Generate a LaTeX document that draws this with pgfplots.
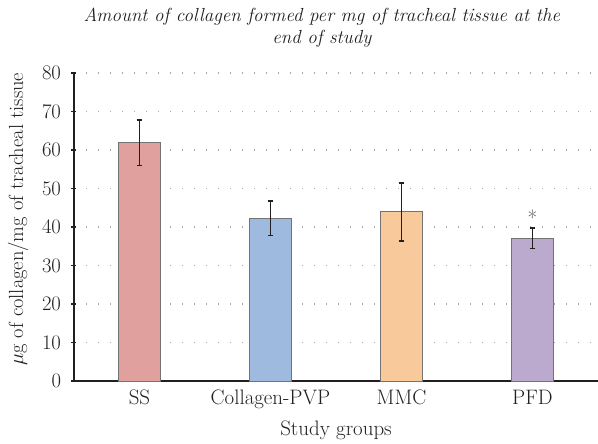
\documentclass[border=0pt]{standalone}
\usepackage{pgfplots}
\pgfplotsset{compat=1.18}
\definecolor{axcol}{HTML}{231F20}
\definecolor{cSS}{HTML}{E0A09E}
\definecolor{cCP}{HTML}{9EBADF}
\definecolor{cMM}{HTML}{F8C99A}
\definecolor{cPF}{HTML}{BBA9CE}
\begin{document}
\begin{tikzpicture}
\useasboundingbox (-74bp,-63bp) rectangle (524bp,381bp);
\begin{axis}[
  scale only axis,
  width=524bp, height=308bp,
  xmin=-0.5, xmax=3.5,
  ymin=0, ymax=80,
  ytick={0,10,...,80},
  xtick={0,1,2,3},
  xticklabels={SS,Collagen-PVP,MMC,PFD},
  major x tick style={draw=none},
  extra x ticks={-0.5,0.5,1.5,2.5},
  extra x tick labels={},
  extra x tick style={major tick length=5bp, tick style={draw=axcol, line width=1.2bp}, grid=none},
  tick align=outside,
  major tick length=5bp,
  y tick style={draw=axcol, line width=1.2bp},
  axis x line=bottom, axis y line=left,
  axis line style={draw=axcol, line width=1.4bp, -},
  ymajorgrids,
  grid style={gray!70, line width=1.2bp, dash pattern=on 1.2bp off 10.8bp},
  yticklabel style={font=\fontsize{20}{22}\selectfont, text=axcol, xshift=-7bp},
  xticklabel style={font=\fontsize{21}{24}\selectfont, text=axcol, yshift=-3bp},
  xlabel={Study groups},
  ylabel={$\mu$g of collagen/mg of tracheal tissue},
  every axis y label/.style={at={(axis description cs:-0.107,0.525)}, rotate=90, anchor=center, font=\fontsize{20.5}{24}\selectfont, text=axcol},
  every axis x label/.style={at={(axis description cs:0.5,0)}, anchor=north, yshift=-36bp, font=\fontsize{21}{24}\selectfont, text=axcol},
  title={Amount of collagen formed per mg of tracheal tissue at the\\ end of study},
  title style={font=\fontsize{19}{22}\selectfont\itshape, text=axcol, align=center, at={(rel axis cs:0.473,1)}, anchor=south, yshift=16bp},
  bar width=42bp,
  clip=false,
]
\addplot[ybar, fill=cSS, draw=black!55, line width=1bp, error bars/.cd, y dir=both, y explicit, error bar style={line width=1.8bp, draw=axcol}, error mark options={rotate=90, mark size=2.8bp, line width=1.8bp, draw=axcol}]
  coordinates {(0,61.9) +- (0,5.9)};
\addplot[ybar, fill=cCP, draw=black!55, line width=1bp, error bars/.cd, y dir=both, y explicit, error bar style={line width=1.8bp, draw=axcol}, error mark options={rotate=90, mark size=2.8bp, line width=1.8bp, draw=axcol}]
  coordinates {(1,42.3) +- (0,4.5)};
\addplot[ybar, fill=cMM, draw=black!55, line width=1bp, error bars/.cd, y dir=both, y explicit, error bar style={line width=1.8bp, draw=axcol}, error mark options={rotate=90, mark size=2.8bp, line width=1.8bp, draw=axcol}]
  coordinates {(2,43.9) +- (0,7.5)};
\addplot[ybar, fill=cPF, draw=black!55, line width=1bp, error bars/.cd, y dir=both, y explicit, error bar style={line width=1.8bp, draw=axcol}, error mark options={rotate=90, mark size=2.8bp, line width=1.8bp, draw=axcol}]
  coordinates {(3,37.1) +- (0,2.7)};
\node[font=\fontsize{21}{24}\selectfont, text=black!70] at (axis cs:3,42.4) {*};
\end{axis}
\end{tikzpicture}
\end{document}
